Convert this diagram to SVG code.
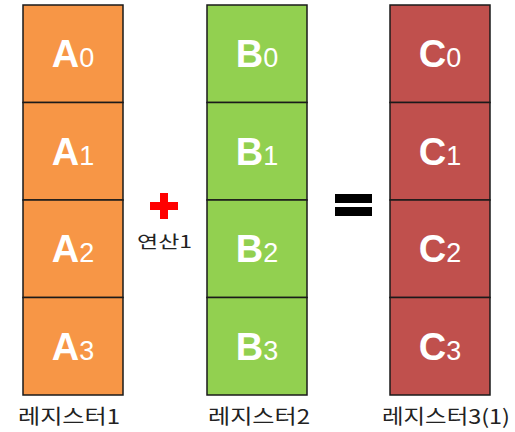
<svg xmlns="http://www.w3.org/2000/svg" width="515" height="432" viewBox="0 0 515 432">
<style>
.cell{stroke:#1a1a1a;stroke-width:1.5}
.a{fill:#F79646}.b{fill:#92D050}.c{fill:#C0504D}
.lt{font-family:"Liberation Sans","Noto Sans",sans-serif;fill:#fff;text-anchor:middle}
.big{font-size:38px;font-weight:bold}
.sub{font-size:27px}
.lbl{font-family:"Noto Sans CJK KR","Noto Sans",sans-serif;font-size:20px;fill:#222;text-anchor:middle}
</style>
<rect width="515" height="432" fill="#fff"/>
<g id="reg1">
<rect class="cell a" x="23" y="5" width="100" height="97.5"/>
<rect class="cell a" x="23" y="102.5" width="100" height="97.5"/>
<rect class="cell a" x="23" y="200" width="100" height="97.5"/>
<rect class="cell a" x="23" y="297.5" width="100" height="97.5"/>
<text class="lt" x="73" y="67"><tspan class="big">A</tspan><tspan class="sub">0</tspan></text>
<text class="lt" x="73" y="164.5"><tspan class="big">A</tspan><tspan class="sub">1</tspan></text>
<text class="lt" x="73" y="262"><tspan class="big">A</tspan><tspan class="sub">2</tspan></text>
<text class="lt" x="73" y="359.5"><tspan class="big">A</tspan><tspan class="sub">3</tspan></text>
<text class="lbl" x="69" y="424" textLength="102" lengthAdjust="spacingAndGlyphs">레지스터1</text>
</g>
<g id="reg2">
<rect class="cell b" x="207" y="5" width="100" height="97.5"/>
<rect class="cell b" x="207" y="102.5" width="100" height="97.5"/>
<rect class="cell b" x="207" y="200" width="100" height="97.5"/>
<rect class="cell b" x="207" y="297.5" width="100" height="97.5"/>
<text class="lt" x="257" y="67"><tspan class="big">B</tspan><tspan class="sub">0</tspan></text>
<text class="lt" x="257" y="164.5"><tspan class="big">B</tspan><tspan class="sub">1</tspan></text>
<text class="lt" x="257" y="262"><tspan class="big">B</tspan><tspan class="sub">2</tspan></text>
<text class="lt" x="257" y="359.5"><tspan class="big">B</tspan><tspan class="sub">3</tspan></text>
<text class="lbl" x="259" y="424" textLength="102" lengthAdjust="spacingAndGlyphs">레지스터2</text>
</g>
<g id="reg3">
<rect class="cell c" x="390" y="5" width="100" height="97.5"/>
<rect class="cell c" x="390" y="102.5" width="100" height="97.5"/>
<rect class="cell c" x="390" y="200" width="100" height="97.5"/>
<rect class="cell c" x="390" y="297.5" width="100" height="97.5"/>
<text class="lt" x="440" y="67"><tspan class="big">C</tspan><tspan class="sub">0</tspan></text>
<text class="lt" x="440" y="164.5"><tspan class="big">C</tspan><tspan class="sub">1</tspan></text>
<text class="lt" x="440" y="262"><tspan class="big">C</tspan><tspan class="sub">2</tspan></text>
<text class="lt" x="440" y="359.5"><tspan class="big">C</tspan><tspan class="sub">3</tspan></text>
<text class="lbl" x="446" y="424" textLength="128" lengthAdjust="spacingAndGlyphs">레지스터3(1)</text>
</g>
<g id="plus">
<path d="M160,193h8v9h10v8h-10v9h-8v-9h-10v-8h10z" fill="#FF0000"/>
<text class="lbl" x="164.5" y="248" style="font-size:17px" textLength="55" lengthAdjust="spacingAndGlyphs">연산1</text>
</g>
<g id="equals">
<rect x="335" y="194" width="37" height="9" fill="#000"/>
<rect x="335" y="207" width="37" height="9" fill="#000"/>
</g>
</svg>
